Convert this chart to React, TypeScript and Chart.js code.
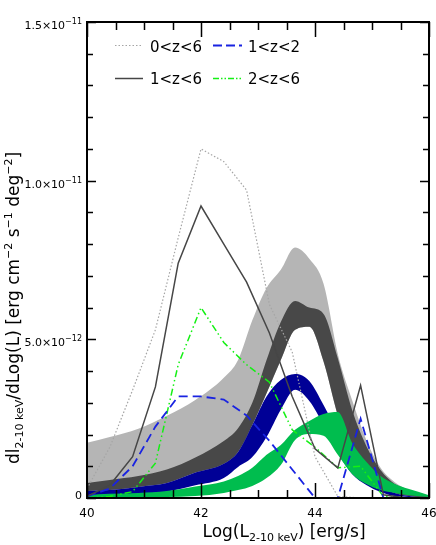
import React, { useEffect, useRef } from 'react';
import { Chart, registerables } from 'chart.js';

Chart.register(...registerables);

// ---------- data (y in units of 1e-12 erg cm^-2 s^-1 deg^-2) ----------
const lineX = [40, 40.4, 40.8, 41.2, 41.6, 42, 42.4, 42.8, 43.2, 43.6, 44, 44.4, 44.8, 45.2, 45.6, 46];
const curveAll = [0.3, 1.6, 3.4, 5.3, 8.2, 11.0, 10.6, 9.7, 6.1, 4.6, 1.3, 0.05, 0, 0, 0, 0];
const curve1to6 = [0.05, 0.4, 1.3, 3.5, 7.4, 9.2, 8.0, 6.8, 5.2, 3.2, 1.55, 0.95, 3.55, 0.1, 0, 0];
const curve1to2 = [0.05, 0.3, 1.0, 2.25, 3.2, 3.2, 3.1, 2.6, 1.8, 0.9, 0, 0, 2.5, 0, 0, 0];
const curve2to6 = [0, 0.05, 0.2, 1.1, 4.2, 6.0, 4.9, 4.2, 3.65, 2.15, 1.6, 0.95, 1.0, 0.05, 0, 0];

const bandX = [40, 40.4, 40.9, 41.4, 41.9, 42.4, 42.65, 42.9, 43.15, 43.4, 43.65, 43.9, 44.15, 44.4, 44.65, 44.9, 45.15, 45.4, 45.65, 46];
const bandAllHi = [1.74, 1.92, 2.18, 2.59, 3.09, 3.79, 4.35, 5.6, 6.62, 7.19, 7.89, 7.54, 6.75, 4.54, 3.09, 1.83, 0.95, 0.5, 0.25, 0.03];
const bandAllLo = [0.22, 0.25, 0.35, 0.47, 0.8, 1.04, 1.45, 2.3, 3.3, 4.35, 5.3, 5.4, 4.3, 2.6, 1.36, 0.82, 0.38, 0.16, 0.06, 0];
const band16Hi = [0.47, 0.57, 0.69, 0.9, 1.28, 1.8, 2.2, 3.0, 4.35, 5.55, 6.21, 6.0, 5.8, 4.4, 2.78, 1.64, 0.88, 0.44, 0.25, 0.03];
const band16Lo = [0.22, 0.25, 0.35, 0.47, 0.8, 1.08, 1.45, 2.3, 3.3, 4.35, 5.3, 5.4, 4.3, 2.6, 1.36, 0.82, 0.38, 0.16, 0.06, 0];
const band12Hi = [0.22, 0.25, 0.35, 0.47, 0.8, 1.08, 1.45, 2.3, 3.2, 3.72, 3.91, 3.69, 2.93, 2.08, 1.36, 0.82, 0.38, 0.16, 0.06, 0];
const band12Lo = [0.03, 0.06, 0.13, 0.2, 0.4, 0.63, 0.98, 1.29, 1.92, 2.78, 3.41, 3.06, 2.3, 1.42, 0.76, 0.41, 0.19, 0.06, 0.03, 0];
const band26Hi = [0.09, 0.13, 0.16, 0.22, 0.36, 0.52, 0.69, 0.95, 1.36, 1.67, 2.15, 2.43, 2.65, 2.71, 1.74, 1.14, 0.69, 0.44, 0.28, 0.09];
const band26Lo = [0, 0, 0.03, 0.03, 0.06, 0.16, 0.25, 0.38, 0.63, 1.04, 1.83, 2.02, 1.96, 1.36, 0.76, 0.44, 0.25, 0.16, 0.09, 0.03];

// ---------- ticks ----------
const xMajorTicks = [40, 42, 44, 46];
const xMinorTicks = [40.5, 41, 41.5, 42.5, 43, 43.5, 44.5, 45, 45.5];
const xTickLabels = ['40', '42', '44', '46'];
const yMajorTicks = [0, 5, 10, 15];
const yMinorTicks = [1, 2, 3, 4, 6, 7, 8, 9, 11, 12, 13, 14];
const yTickMantissa = ['0', '5.0\u00d710', '1.0\u00d710', '1.5\u00d710'];
const yTickExponent = ['', '\u221212', '\u221211', '\u221211'];

const legendLabels = ['0<z<6', '1<z<2', '1<z<6', '2<z<6'];

// ---------- styles ----------
const FONT = '"DejaVu Sans", "Liberation Sans", sans-serif';
const C_LIGHT = 'rgb(181,181,181)';
const C_DARK = 'rgb(72,72,72)';
const C_BLUE_BAND = 'rgb(0,0,150)';
const C_GREEN_BAND = 'rgb(0,189,78)';
const C_DOTTED = 'rgb(165,165,165)';
const C_SOLID = 'rgb(70,70,70)';
const C_BLUE = 'rgb(25,35,225)';
const C_GREEN = 'rgb(20,240,20)';

const DASH_DOT = [1.5, 2];
const DASH_BLUE = [9, 5];
const DASH_GREEN = [7, 3, 1.5, 3, 1.5, 3];

type Seg = { t: string; size: number; dy?: number };

function drawRich(ctx: CanvasRenderingContext2D, segs: Seg[], x: number, y: number, align: 'left' | 'center' | 'right') {
  let w = 0;
  for (const s of segs) {
    ctx.font = `${s.size}px ${FONT}`;
    w += ctx.measureText(s.t).width;
  }
  let cx = align === 'center' ? x - w / 2 : align === 'right' ? x - w : x;
  ctx.textAlign = 'left';
  ctx.textBaseline = 'alphabetic';
  for (const s of segs) {
    ctx.font = `${s.size}px ${FONT}`;
    ctx.fillText(s.t, cx, y + (s.dy || 0));
    cx += ctx.measureText(s.t).width;
  }
}

const framePlugin = {
  id: 'idlFrame',
  afterDraw(chart: any) {
    const { ctx, chartArea } = chart;
    const xs = chart.scales.x;
    const ys = chart.scales.y;
    const { left, right, top, bottom } = chartArea;
    ctx.save();
    ctx.setLineDash([]);
    ctx.strokeStyle = '#000';
    ctx.fillStyle = '#000';

    // ticks
    ctx.lineWidth = 1.5;
    const xt = (v: number, len: number) => {
      const p = Math.round(xs.getPixelForValue(v)) + 0.5;
      ctx.beginPath();
      ctx.moveTo(p, bottom); ctx.lineTo(p, bottom - len);
      ctx.moveTo(p, top); ctx.lineTo(p, top + len);
      ctx.stroke();
    };
    const yt = (v: number, len: number) => {
      const p = Math.round(ys.getPixelForValue(v)) + 0.5;
      ctx.beginPath();
      ctx.moveTo(left, p); ctx.lineTo(left + len, p);
      ctx.moveTo(right, p); ctx.lineTo(right - len, p);
      ctx.stroke();
    };
    xMajorTicks.forEach((v) => xt(v, 15));
    xMinorTicks.forEach((v) => xt(v, 8));
    yMajorTicks.forEach((v) => yt(v, 9));
    yMinorTicks.forEach((v) => yt(v, 6));

    // frame
    ctx.lineWidth = 2;
    ctx.strokeRect(left, top, right - left, bottom - top);

    // x tick labels
    xMajorTicks.forEach((v, i) => {
      drawRich(ctx, [{ t: xTickLabels[i], size: 12 }], xs.getPixelForValue(v), 517, 'center');
    });
    // y tick labels
    yMajorTicks.forEach((v, i) => {
      const p = ys.getPixelForValue(v);
      if (yTickExponent[i]) {
        drawRich(ctx, [
          { t: yTickMantissa[i], size: 11 },
          { t: yTickExponent[i], size: 8, dy: -5 },
        ], 82, p + 7, 'right');
      } else {
        drawRich(ctx, [{ t: yTickMantissa[i], size: 11 }], 82, p + 1, 'right');
      }
    });

    // x title
    drawRich(ctx, [
      { t: 'Log(L', size: 17 },
      { t: '2-10 keV', size: 11, dy: 4 },
      { t: ') [erg/s]', size: 17 },
    ], 284, 537, 'center');

    // y title
    ctx.save();
    ctx.translate(19, 308);
    ctx.rotate(-Math.PI / 2);
    drawRich(ctx, [
      { t: 'dl', size: 17 },
      { t: '2-10 keV', size: 11, dy: 4 },
      { t: '/dLog(L) [erg cm', size: 17 },
      { t: '\u22122', size: 11, dy: -7 },
      { t: ' s', size: 17 },
      { t: '\u22121', size: 11, dy: -7 },
      { t: ' deg', size: 17 },
      { t: '\u22122', size: 11, dy: -7 },
      { t: ']', size: 17 },
    ], 0, 0, 'center');
    ctx.restore();

    // legend
    const items = [
      { label: legendLabels[0], color: C_DOTTED, dash: DASH_DOT, w: 1.2, x1: 115, x2: 143, y: 45, tx: 150, ty: 52 },
      { label: legendLabels[1], color: C_BLUE, dash: [9, 4], w: 1.8, x1: 213, x2: 242, y: 45, tx: 248, ty: 52 },
      { label: legendLabels[2], color: C_SOLID, dash: [], w: 1.5, x1: 115, x2: 143, y: 78, tx: 150, ty: 84 },
      { label: legendLabels[3], color: C_GREEN, dash: [6, 2, 1.5, 2, 1.5, 2], w: 1.5, x1: 213, x2: 242, y: 78, tx: 248, ty: 84 },
    ];
    items.forEach((it) => {
      ctx.save();
      ctx.strokeStyle = it.color;
      ctx.lineWidth = it.w;
      ctx.setLineDash(it.dash);
      ctx.beginPath();
      ctx.moveTo(it.x1, it.y + 0.5);
      ctx.lineTo(it.x2, it.y + 0.5);
      ctx.stroke();
      ctx.restore();
      ctx.fillStyle = '#000';
      drawRich(ctx, [{ t: it.label, size: 15 }], it.tx, it.ty, 'left');
    });

    ctx.restore();
  },
};

function pts(xv: number[], yv: number[]) {
  return xv.map((x, i) => ({ x, y: yv[i] }));
}

export default function App() {
  const ref = useRef<HTMLCanvasElement | null>(null);
  useEffect(() => {
    document.body.style.margin = '0';
    const canvas = ref.current!;
    const lineDs = (data: number[], color: string, dash: number[], width: number, order: number) => ({
      data: pts(lineX, data),
      borderColor: color,
      borderDash: dash,
      borderWidth: width,
      pointRadius: 0,
      fill: false,
      tension: 0,
      order,
    });
    const bandDs = (data: number[], color: string, fill: any, order: number) => ({
      data: pts(bandX, data),
      borderWidth: 0,
      borderColor: 'rgba(0,0,0,0)',
      backgroundColor: color,
      pointRadius: 0,
      fill,
      cubicInterpolationMode: 'monotone',
      order,
    });
    const chart = new Chart(canvas, {
      type: 'line',
      data: {
        datasets: [
          lineDs(curveAll, C_DOTTED, DASH_DOT, 1.2, 0) as any,
          lineDs(curve1to6, C_SOLID, [], 1.5, 1),
          lineDs(curve1to2, C_BLUE, DASH_BLUE, 1.8, 2),
          lineDs(curve2to6, C_GREEN, DASH_GREEN, 1.5, 3),
          bandDs(band26Hi, C_GREEN_BAND, 5, 4),
          bandDs(band26Lo, C_GREEN_BAND, false, 5),
          bandDs(band12Hi, C_BLUE_BAND, 7, 6),
          bandDs(band12Lo, C_BLUE_BAND, false, 7),
          bandDs(band16Hi, C_DARK, 9, 8),
          bandDs(band16Lo, C_DARK, false, 9),
          bandDs(bandAllHi, C_LIGHT, 11, 10),
          bandDs(bandAllLo, C_LIGHT, false, 11),
        ],
      },
      options: {
        responsive: false,
        animation: false,
        layout: { padding: { left: 87, right: 7, top: 22, bottom: 47 } },
        scales: {
          x: { type: 'linear', min: 40, max: 46, display: false },
          y: { type: 'linear', min: 0, max: 15, display: false },
        },
        plugins: {
          legend: { display: false },
          tooltip: { enabled: false },
        },
        elements: { line: { borderJoinStyle: 'miter' } },
      },
      plugins: [framePlugin],
    });
    return () => chart.destroy();
  }, []);
  return (
    <div style={{ position: 'absolute', left: 0, top: 0, width: 436, height: 545, background: '#fff' }}>
      <canvas ref={ref} width={436} height={545} style={{ display: 'block', width: 436, height: 545 }} />
    </div>
  );
}
